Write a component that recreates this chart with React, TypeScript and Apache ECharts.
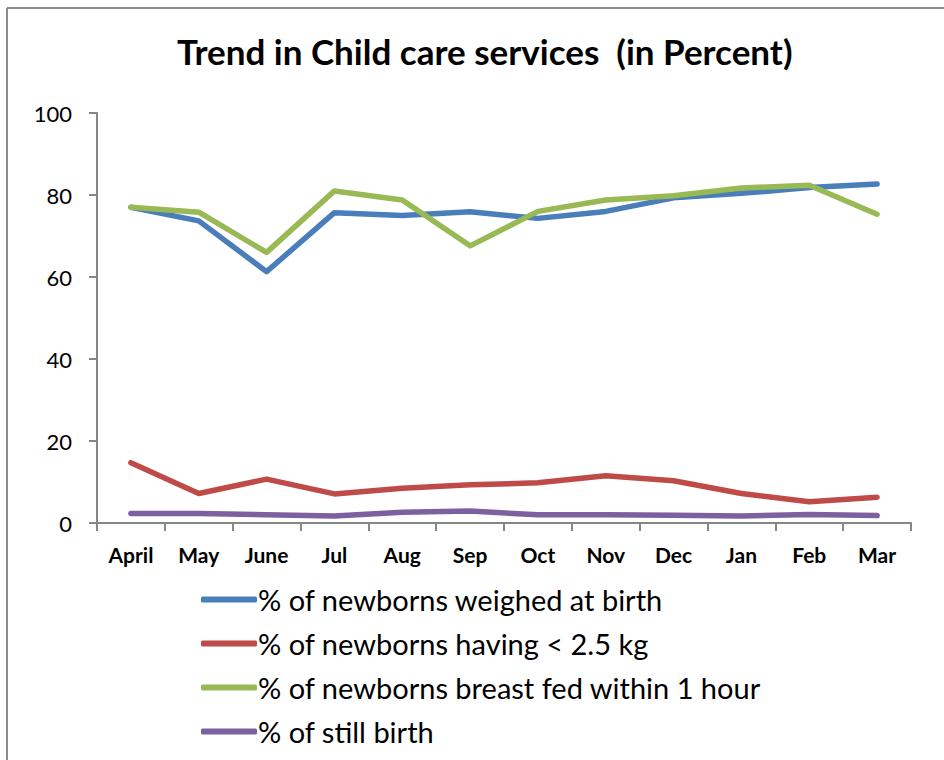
import React, { useEffect, useRef } from "react";
import * as echarts from "echarts";

const months = ["April", "May", "June", "Jul", "Aug", "Sep", "Oct", "Nov", "Dec", "Jan", "Feb", "Mar"];
const yTicks = [0, 20, 40, 60, 80, 100];

const weighedAtBirth = [77.0, 73.7, 61.3, 75.7, 75.0, 75.9, 74.3, 76.0, 79.3, 80.4, 81.8, 82.7];
const under2500g = [14.7, 7.2, 10.7, 7.1, 8.5, 9.3, 9.8, 11.5, 10.3, 7.2, 5.2, 6.3];
const breastFed1h = [77.0, 75.8, 66.0, 81.0, 78.8, 67.6, 76.0, 78.8, 79.8, 81.7, 82.4, 75.3];
const stillBirth = [2.3, 2.3, 2.0, 1.7, 2.6, 2.9, 2.0, 2.0, 1.9, 1.7, 2.1, 1.8];

const seriesNames = [
  "% of newborns weighed at birth",
  "% of newborns having < 2.5 kg",
  "% of newborns breast fed within 1 hour",
  "% of still birth",
];
const seriesColors = ["#4A7EBB", "#BE4B48", "#98B954", "#7D60A0"];

const FONT = "Lato, 'Open Sans', sans-serif";

export default function App() {
  const ref = useRef<HTMLDivElement>(null);

  useEffect(() => {
    if (!ref.current) return;
    const chart = echarts.init(ref.current, null, { renderer: "svg" });
    const values = [weighedAtBirth, under2500g, breastFed1h, stillBirth];

    chart.setOption({
      animation: false,
      backgroundColor: "#ffffff",
      title: {
        text: "Trend in Child care services  (in Percent)",
        left: 172,
        top: 28,
        textStyle: { fontFamily: FONT, fontWeight: "bold", fontSize: 35, color: "#000" },
      },
      graphic: [
        {
          type: "line",
          shape: { x1: 7, y1: 8, x2: 944, y2: 8 },
          style: { stroke: "#8c8c8c", lineWidth: 2 },
          silent: true,
        },
        {
          type: "line",
          shape: { x1: 7, y1: 8, x2: 7, y2: 760 },
          style: { stroke: "#8c8c8c", lineWidth: 2 },
          silent: true,
        },
      ],
      legend: {
        orient: "vertical",
        left: 196,
        top: 580,
        itemWidth: 56,
        itemHeight: 6,
        itemGap: 15,
        icon: "roundRect",
        textStyle: { fontFamily: FONT, fontSize: 29, color: "#000", padding: [0, 0, 0, -4] },
        data: seriesNames,
      },
      grid: { left: 97, right: 33, top: 113, bottom: 237 },
      xAxis: {
        type: "category",
        data: months,
        boundaryGap: true,
        axisLine: { lineStyle: { color: "#868686", width: 2 } },
        axisTick: { show: true, length: 8, lineStyle: { color: "#868686", width: 2 } },
        axisLabel: {
          fontFamily: FONT,
          fontWeight: "bold",
          fontSize: 21,
          color: "#000",
          margin: 21,
          interval: 0,
        },
      },
      yAxis: {
        type: "value",
        min: yTicks[0],
        max: yTicks[yTicks.length - 1],
        interval: 20,
        axisLine: { show: true, lineStyle: { color: "#868686", width: 2 } },
        axisTick: { show: true, length: 8, lineStyle: { color: "#868686", width: 2 } },
        splitLine: { show: false },
        axisLabel: { fontFamily: FONT, fontSize: 22, color: "#000", margin: 25 },
      },
      series: seriesNames.map((name, i) => ({
        name,
        type: "line",
        data: values[i],
        symbol: "none",
        color: seriesColors[i],
        lineStyle: { width: 5.5, color: seriesColors[i], cap: "round", join: "round" },
      })),
    });

    return () => chart.dispose();
  }, []);

  return (
    <div ref={ref} style={{ position: "absolute", left: 0, top: 0, width: 944, height: 760 }} />
  );
}
